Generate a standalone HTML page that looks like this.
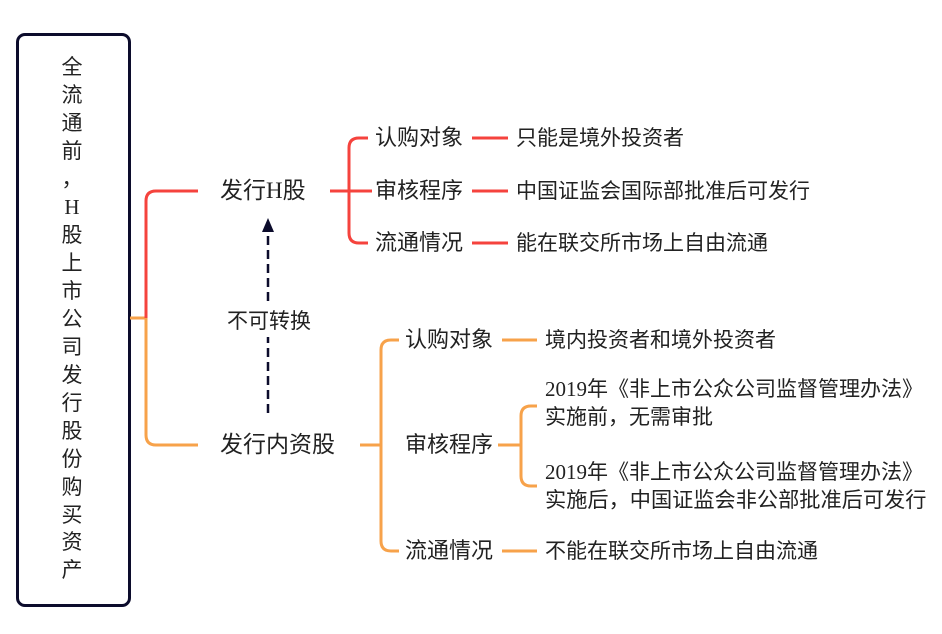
<!DOCTYPE html>
<html><head><meta charset="utf-8"><style>
body{margin:0;width:942px;height:634px;background:#fff;position:relative;overflow:hidden;font-family:"Liberation Serif","Noto Sans CJK SC",sans-serif;color:#222}
.t{position:absolute;white-space:nowrap;line-height:1;font-family:"Liberation Serif","Noto Sans CJK SC",sans-serif}
.box{position:absolute;left:16px;top:33px;width:109px;height:568px;border:3px solid #0c0c2c;border-radius:9px}
.v{position:absolute;left:59px;width:26px;text-align:center;font-size:21px;line-height:1}
</style></head><body>
<div class="box"></div>
<div class="v" style="top:57px">全</div>
<div class="v" style="top:85px">流</div>
<div class="v" style="top:113px">通</div>
<div class="v" style="top:141px">前</div>
<div class="v" style="top:169px">，</div>
<div class="v" style="top:197px">H</div>
<div class="v" style="top:225px">股</div>
<div class="v" style="top:253px">上</div>
<div class="v" style="top:281px">市</div>
<div class="v" style="top:309px">公</div>
<div class="v" style="top:337px">司</div>
<div class="v" style="top:365px">发</div>
<div class="v" style="top:393px">行</div>
<div class="v" style="top:421px">股</div>
<div class="v" style="top:449px">份</div>
<div class="v" style="top:477px">购</div>
<div class="v" style="top:505px">买</div>
<div class="v" style="top:532px">资</div>
<div class="v" style="top:560px">产</div>
<svg width="942" height="634" style="position:absolute;left:0;top:0" fill="none" stroke-width="3">
<g stroke="#f7a24a">
<path d="M130 318H146"/>
<path d="M146 318V435Q146 445 156 445H198"/>
<path d="M360 445H381"/>
<path d="M399 340H391Q381 340 381 350V541Q381 551 391 551H399"/>
<path d="M502 340H537M502 551H537"/>
<path d="M498 445H521"/>
<path d="M537 406H531Q521 406 521 416V476Q521 486 531 486H537"/>
</g>
<g stroke="#f5433d">
<path d="M146 318V201Q146 191 156 191H198"/>
<path d="M330 191H372"/>
<path d="M368 138H359Q349 138 349 148V233Q349 243 359 243H368"/>
<path d="M472 138H508M472 191H508M472 243H508"/>
</g>
<path d="M268 413V226" stroke="#0c0c2c" stroke-width="2.5" stroke-dasharray="9,5"/>
<path d="M262 232L268 218L274 232Z" fill="#0c0c2c" stroke="none"/>
</svg>
<div class="t" style="left:220px;top:179px;font-size:23px">发行H股</div>
<div class="t" style="left:220px;top:433px;font-size:23px">发行内资股</div>
<div class="t" style="left:224px;top:306px;font-size:21px;background:#fff;padding:5px 3px">不可转换</div>
<div class="t" style="left:375px;top:127px;font-size:22px">认购对象</div>
<div class="t" style="left:375px;top:180px;font-size:22px">审核程序</div>
<div class="t" style="left:375px;top:232px;font-size:22px">流通情况</div>
<div class="t" style="left:516px;top:128px;font-size:21px">只能是境外投资者</div>
<div class="t" style="left:516px;top:181px;font-size:21px">中国证监会国际部批准后可发行</div>
<div class="t" style="left:516px;top:233px;font-size:21px">能在联交所市场上自由流通</div>
<div class="t" style="left:405px;top:329px;font-size:22px">认购对象</div>
<div class="t" style="left:405px;top:434px;font-size:22px">审核程序</div>
<div class="t" style="left:405px;top:540px;font-size:22px">流通情况</div>
<div class="t" style="left:545px;top:330px;font-size:21px">境内投资者和境外投资者</div>
<div class="t" style="left:545px;top:541px;font-size:21px">不能在联交所市场上自由流通</div>
<div class="t" style="left:545px;top:379px;font-size:21px">2019年《非上市公众公司监督管理办法》</div>
<div class="t" style="left:545px;top:407px;font-size:21px">实施前，无需审批</div>
<div class="t" style="left:545px;top:462px;font-size:21px">2019年《非上市公众公司监督管理办法》</div>
<div class="t" style="left:545px;top:490px;font-size:21.2px">实施后，中国证监会非公部批准后可发行</div>
</body></html>
